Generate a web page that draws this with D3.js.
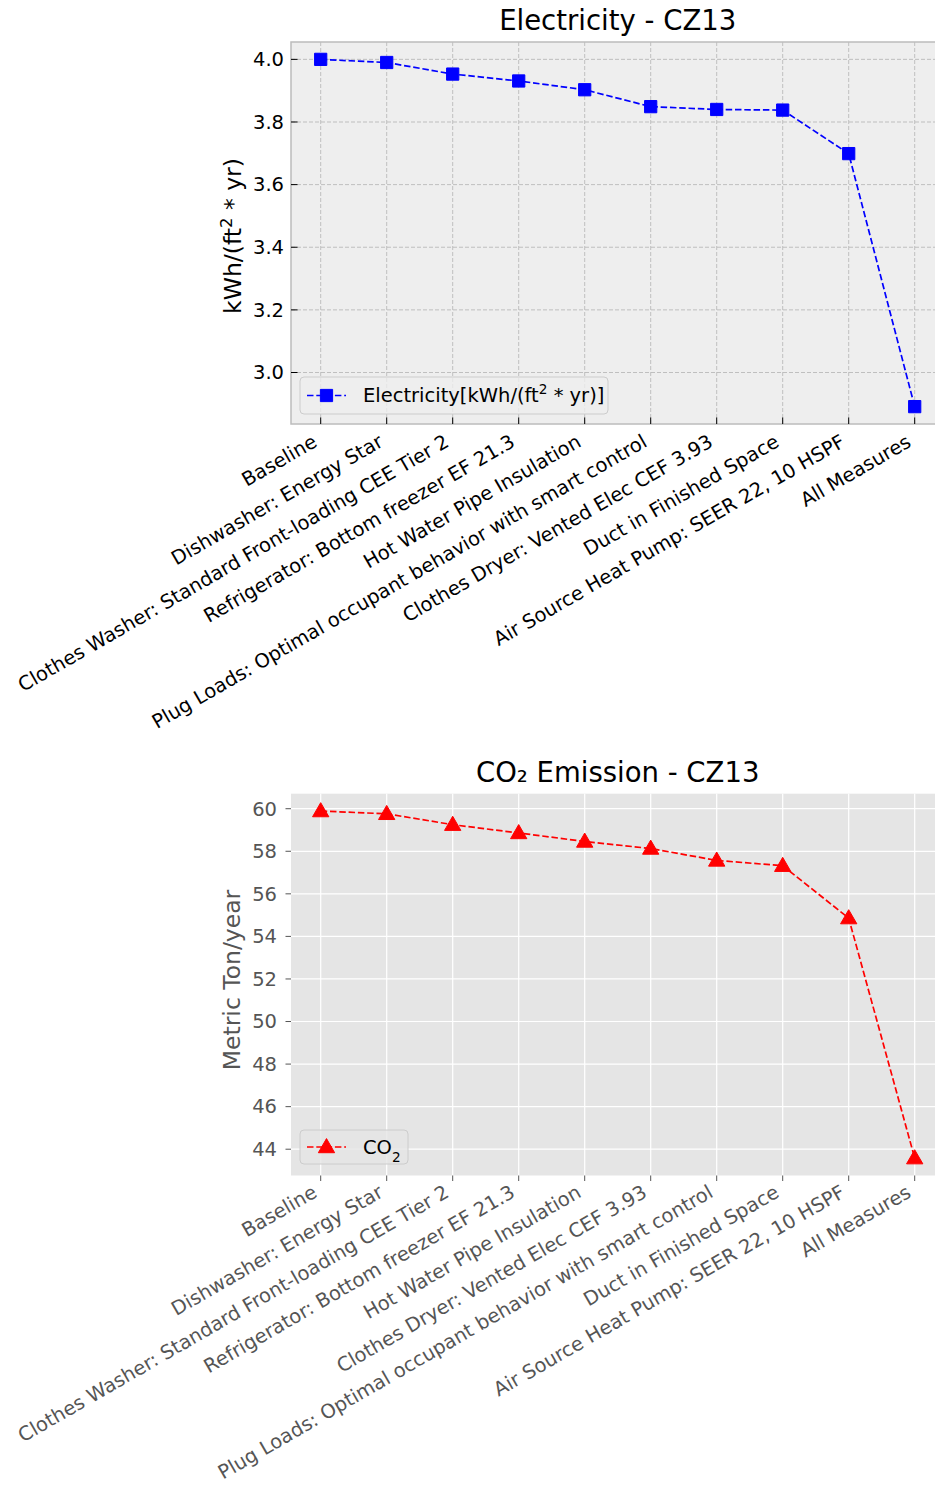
<!DOCTYPE html>
<html>
<head>
<meta charset="utf-8">
<script src="https://cdn.jsdelivr.net/npm/d3@7"></script>
<style>
  html, body { margin: 0; padding: 0; background: #ffffff; }
  svg { display: block; font-family: "DejaVu Sans", sans-serif; }
</style>
</head>
<body>
<svg id="chart" width="935" height="1485"></svg>
<script>
// Measures in the order used by the electricity panel
const elecCategories = [
  "Baseline",
  "Dishwasher: Energy Star",
  "Clothes Washer: Standard Front-loading CEE Tier 2",
  "Refrigerator: Bottom freezer EF 21.3",
  "Hot Water Pipe Insulation",
  "Plug Loads: Optimal occupant behavior with smart control",
  "Clothes Dryer: Vented Elec CEF 3.93",
  "Duct in Finished Space",
  "Air Source Heat Pump: SEER 22, 10 HSPF",
  "All Measures"
];
// Electricity use intensity, kWh/(ft2*yr)
const elecValues = [4.000, 3.990, 3.953, 3.931, 3.903, 3.849, 3.840, 3.838, 3.699, 2.891];
const elecTicks = [3.0, 3.2, 3.4, 3.6, 3.8, 4.0];

// Measures in the order used by the CO2 panel
const co2Categories = [
  "Baseline",
  "Dishwasher: Energy Star",
  "Clothes Washer: Standard Front-loading CEE Tier 2",
  "Refrigerator: Bottom freezer EF 21.3",
  "Hot Water Pipe Insulation",
  "Clothes Dryer: Vented Elec CEF 3.93",
  "Plug Loads: Optimal occupant behavior with smart control",
  "Duct in Finished Space",
  "Air Source Heat Pump: SEER 22, 10 HSPF",
  "All Measures"
];
// CO2 emission, metric ton per year
const co2Values = [59.89, 59.76, 59.25, 58.86, 58.46, 58.13, 57.57, 57.32, 54.86, 43.58];
const co2Ticks = [44, 46, 48, 50, 52, 54, 56, 58, 60];

const svg = d3.select("#chart");

function padDomain(vals) {
  const lo = d3.min(vals), hi = d3.max(vals), m = (hi - lo) * 0.05;
  return [lo - m, hi + m];
}

function drawPanel(cfg) {
  const g = svg.append("g");
  const n = cfg.categories.length;
  const x = d3.scaleLinear().domain([-0.45, n - 1 + 0.45]).range([cfg.left, cfg.left + (n - 1 + 0.9) * 66]);
  const y = d3.scaleLinear().domain(padDomain(cfg.values)).range([cfg.bottom, cfg.top]);
  const w = x.range()[1] - cfg.left, h = cfg.bottom - cfg.top;

  // plot background
  g.append("rect").attr("x", cfg.left).attr("y", cfg.top).attr("width", w).attr("height", h)
    .attr("fill", cfg.face);

  // grid
  const grid = g.append("g");
  d3.range(n).forEach(i => {
    grid.append("line").attr("x1", x(i)).attr("x2", x(i)).attr("y1", cfg.top).attr("y2", cfg.bottom)
      .attr("stroke", cfg.gridColor).attr("stroke-width", cfg.gridWidth).attr("stroke-dasharray", cfg.gridDash);
  });
  cfg.ticks.forEach(t => {
    grid.append("line").attr("x1", cfg.left).attr("x2", cfg.left + w).attr("y1", y(t)).attr("y2", y(t))
      .attr("stroke", cfg.gridColor).attr("stroke-width", cfg.gridWidth).attr("stroke-dasharray", cfg.gridDash);
  });

  // frame
  if (cfg.edge) {
    g.append("rect").attr("x", cfg.left).attr("y", cfg.top).attr("width", w).attr("height", h)
      .attr("fill", "none").attr("stroke", cfg.edge).attr("stroke-width", 1.5);
  }

  // y axis ticks and labels
  const tl = cfg.tickLen * cfg.tickDir;
  cfg.ticks.forEach(t => {
    g.append("line").attr("x1", cfg.left).attr("x2", cfg.left - tl).attr("y1", y(t)).attr("y2", y(t))
      .attr("stroke", cfg.tickColor).attr("stroke-width", 1);
    g.append("text").attr("x", cfg.yLabelX).attr("y", y(t)).attr("dy", "0.35em")
      .attr("text-anchor", "end").attr("font-size", cfg.fs).attr("fill", cfg.textColor)
      .text(cfg.fmt(t));
  });

  // x axis ticks and rotated labels
  const fs = cfg.fs;
  cfg.categories.forEach((c, i) => {
    g.append("line").attr("x1", x(i)).attr("x2", x(i)).attr("y1", cfg.bottom).attr("y2", cfg.bottom + tl)
      .attr("stroke", cfg.tickColor).attr("stroke-width", 1);
    const ex = x(i) - 0.12 * fs;
    const ey = cfg.bottom + cfg.xLabelPad + 0.80 * fs;
    g.append("text").attr("transform", `translate(${ex},${ey}) rotate(-30)`)
      .attr("text-anchor", "end").attr("font-size", fs).attr("fill", cfg.textColor)
      .text(c);
  });

  // y axis title
  const yt = g.append("text")
    .attr("transform", `translate(${cfg.yTitleX},${cfg.yTitleY}) rotate(-90)`)
    .attr("text-anchor", "middle").attr("font-size", cfg.yTitleSize).attr("fill", cfg.yTitleColor);
  cfg.yTitle(yt);

  // chart title
  g.append("text").attr("x", (cfg.left + cfg.left + w) / 2).attr("y", cfg.titleY)
    .attr("text-anchor", "middle").attr("font-size", cfg.titleSize).attr("fill", "#000")
    .text(cfg.title);

  // series line
  const clipId = "clip" + cfg.id;
  svg.append("clipPath").attr("id", clipId).append("rect")
    .attr("x", cfg.left).attr("y", cfg.top).attr("width", w).attr("height", h);
  const line = d3.line().x((d, i) => x(i)).y(d => y(d));
  g.append("path").datum(cfg.values).attr("d", line).attr("clip-path", `url(#${clipId})`)
    .attr("fill", "none").attr("stroke", cfg.color).attr("stroke-width", 1.7)
    .attr("stroke-dasharray", "6.5,2.8");

  const sym = d3.symbol().type(cfg.symbol).size(cfg.symbolSize);
  g.selectAll(".mk").data(cfg.values).join("path")
    .attr("transform", (d, i) => `translate(${x(i)},${y(d) + cfg.symbolDy})`)
    .attr("d", sym).attr("fill", cfg.color).attr("stroke", cfg.color).attr("stroke-width", 1);

  // legend
  const L = cfg.legend;
  g.append("rect").attr("x", L.x).attr("y", L.y).attr("width", L.w).attr("height", L.h)
    .attr("rx", 4).attr("fill", cfg.face).attr("fill-opacity", 0.8)
    .attr("stroke", "#cccccc").attr("stroke-width", 1);
  const ly = L.y + L.h / 2;
  g.append("line").attr("x1", L.x + 7).attr("x2", L.x + 46).attr("y1", ly).attr("y2", ly)
    .attr("stroke", cfg.color).attr("stroke-width", 1.7).attr("stroke-dasharray", "6.5,2.8");
  g.append("path").attr("transform", `translate(${L.x + 26.5},${ly + cfg.symbolDy})`)
    .attr("d", sym).attr("fill", cfg.color).attr("stroke", cfg.color);
  const lt = g.append("text").attr("x", L.x + 63).attr("y", ly).attr("dy", "0.35em")
    .attr("font-size", cfg.fs).attr("fill", "#000");
  L.label(lt);
}

// Electricity panel (bmh look)
drawPanel({
  id: "elec",
  categories: elecCategories, values: elecValues, ticks: elecTicks,
  left: 291, top: 42, bottom: 424,
  face: "#eeeeee", edge: "#bcbcbc",
  gridColor: "#b2b2b2", gridWidth: 0.8, gridDash: "4,2",
  tickColor: "#000", tickLen: 6.5, tickDir: -1, textColor: "#000",
  fs: 19.5, xLabelPad: 6, yLabelX: 284,
  fmt: d3.format(".1f"),
  yTitleX: 241, yTitleY: 236, yTitleSize: 23.5, yTitleColor: "#000",
  yTitle: t => {
    t.append("tspan").text("kWh/(ft");
    t.append("tspan").attr("baseline-shift", "super").attr("font-size", "70%").text("2");
    t.append("tspan").text(" * yr)");
  },
  title: "Electricity - CZ13", titleY: 30, titleSize: 27.5,
  color: "#0000ff", symbol: d3.symbolSquare, symbolSize: 150, symbolDy: 0,
  legend: {
    x: 300, y: 377, w: 308, h: 37,
    label: t => {
      t.append("tspan").text("Electricity[kWh/(ft");
      t.append("tspan").attr("baseline-shift", "super").attr("font-size", "70%").text("2");
      t.append("tspan").text(" * yr)]");
    }
  }
});

// CO2 panel (ggplot look)
drawPanel({
  id: "co2",
  categories: co2Categories, values: co2Values, ticks: co2Ticks,
  left: 291, top: 793.7, bottom: 1175.5,
  face: "#e5e5e5", edge: null,
  gridColor: "#ffffff", gridWidth: 1.2, gridDash: null,
  tickColor: "#555555", tickLen: 5.5, tickDir: 1, textColor: "#555555",
  fs: 19.5, xLabelPad: 5, yLabelX: 277,
  fmt: d3.format("d"),
  yTitleX: 240, yTitleY: 980, yTitleSize: 23.5, yTitleColor: "#555555",
  yTitle: t => { t.text("Metric Ton/year"); },
  title: "CO\u2082 Emission - CZ13", titleY: 782, titleSize: 27.5,
  color: "#ff0000", symbol: d3.symbolTriangle, symbolSize: 115, symbolDy: 1,
  legend: {
    x: 300, y: 1130, w: 108, h: 34,
    label: t => {
      t.append("tspan").text("CO");
      t.append("tspan").attr("baseline-shift", "sub").attr("font-size", "70%").text("2");
    }
  }
});
</script>
</body>
</html>
